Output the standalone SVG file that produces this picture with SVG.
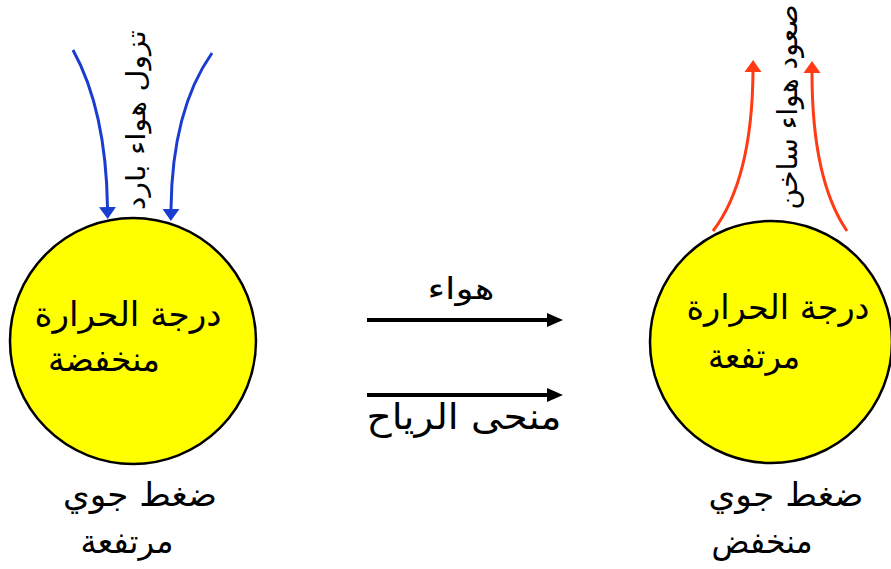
<svg xmlns="http://www.w3.org/2000/svg" width="891" height="569" viewBox="0 0 891 569">
<style>
.bg{fill:#ffffff}
.ball{fill:#ffff00;stroke:#000;stroke-width:2.5}
.t{font-family:"DejaVu Sans","Noto Sans",sans-serif;fill:#000;text-anchor:middle}
.blue{fill:none;stroke:#1a3dd0;stroke-width:3}
.red{fill:none;stroke:#ff3a14;stroke-width:3}
.blk{fill:none;stroke:#000;stroke-width:4}
</style>
<defs>
<marker id="mBlue" markerUnits="userSpaceOnUse" markerWidth="14" markerHeight="18" refX="0" refY="8.5" orient="auto" viewBox="0 0 14 17"><path d="M0,0 L12,8.5 L0,17 z" fill="#1a3dd0"/></marker>
<marker id="mRed" markerUnits="userSpaceOnUse" markerWidth="14" markerHeight="18" refX="0" refY="8.5" orient="auto" viewBox="0 0 14 17"><path d="M0,0 L12,8.5 L0,17 z" fill="#ff3a14"/></marker>
<marker id="mBlk" markerUnits="userSpaceOnUse" markerWidth="17" markerHeight="15" refX="0" refY="7" orient="auto" viewBox="0 0 17 14"><path d="M0,0 L16,7 L0,14 z" fill="#000"/></marker>
</defs>
<rect class="bg" x="0" y="0" width="891" height="569"/>
<g id="connectors">
<path class="blue" d="M73,50 Q106,110 107.5,207" marker-end="url(#mBlue)"/>
<path class="blue" d="M212,53 Q172,110 171,209" marker-end="url(#mBlue)"/>
<path class="red" d="M713,231 Q752,180 753,72" marker-end="url(#mRed)"/>
<path class="red" d="M847,231 Q812,180 812,73" marker-end="url(#mRed)"/>
<line class="blk" x1="367" y1="320" x2="547" y2="320" marker-end="url(#mBlk)"/>
<line class="blk" x1="367" y1="395" x2="547" y2="395" marker-end="url(#mBlk)"/>
</g>
<g id="cold-node">
<circle class="ball" cx="133" cy="341" r="123"/>
<text class="t" x="128" y="326" font-size="34" textLength="187" lengthAdjust="spacingAndGlyphs">درجة الحرارة</text>
<text class="t" x="104" y="371" font-size="34" textLength="112" lengthAdjust="spacingAndGlyphs">منخفضة</text>
</g>
<g id="hot-node">
<circle class="ball" cx="771" cy="342" r="121"/>
<text class="t" x="778" y="319" font-size="34" textLength="183" lengthAdjust="spacingAndGlyphs">درجة الحرارة</text>
<text class="t" x="754" y="368" font-size="34" textLength="92" lengthAdjust="spacingAndGlyphs">مرتفعة</text>
</g>
<g id="cold-air-label">
<text class="t" transform="translate(145,120) rotate(-90)" font-size="26" textLength="180" lengthAdjust="spacingAndGlyphs">تزول هواء بارد</text>
</g>
<g id="hot-air-label">
<text class="t" transform="translate(797,107) rotate(-90)" font-size="28" textLength="205" lengthAdjust="spacingAndGlyphs">صعود هواء ساخن</text>
</g>
<g id="wind-labels">
<text class="t" x="461" y="299" font-size="30" textLength="67" lengthAdjust="spacingAndGlyphs">هواء</text>
<text class="t" x="464" y="429" font-size="36" textLength="195" lengthAdjust="spacingAndGlyphs">منحى الرياح</text>
</g>
<g id="high-pressure-label">
<text class="t" x="140" y="506" font-size="33" textLength="154" lengthAdjust="spacingAndGlyphs">ضغط جوي</text>
<text class="t" x="127" y="553" font-size="33" textLength="93" lengthAdjust="spacingAndGlyphs">مرتفعة</text>
</g>
<g id="low-pressure-label">
<text class="t" x="786" y="506" font-size="33" textLength="155" lengthAdjust="spacingAndGlyphs">ضغط جوي</text>
<text class="t" x="762" y="553" font-size="33" textLength="101" lengthAdjust="spacingAndGlyphs">منخفض</text>
</g>
</svg>
